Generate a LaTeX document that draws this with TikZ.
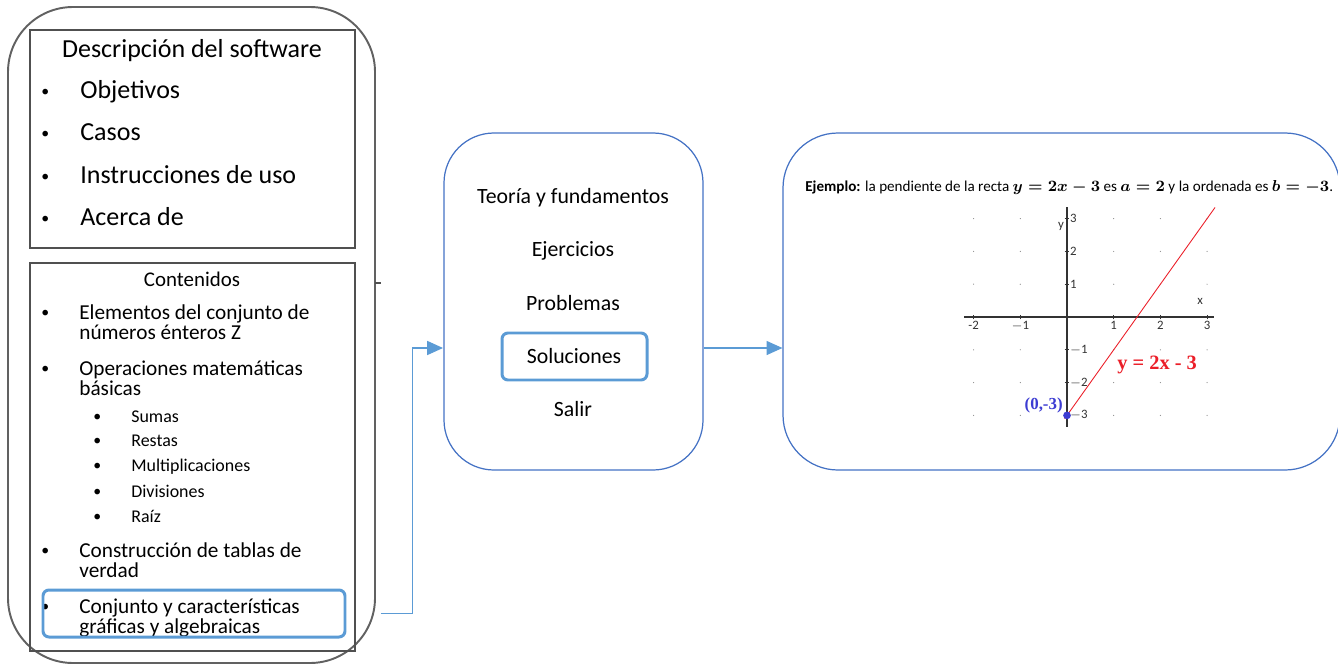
\documentclass[tikz,border=0pt]{standalone}
\usepackage{amsmath}
\usepackage{fontspec}
\setmainfont{Carlito}
\newfontfamily\labelfont{Liberation Serif}
\usepackage{tikz}
\usetikzlibrary{arrows.meta}
\usetikzlibrary{calc}
\usetikzlibrary{positioning}
\definecolor{boxblue}{RGB}{68,114,196}
\definecolor{linkblue}{RGB}{91,155,213}
\definecolor{framegray}{RGB}{80,80,80}
\definecolor{plotred}{RGB}{235,30,40}
\definecolor{pointblue}{RGB}{60,60,210}

\begin{document}
\begin{tikzpicture}[x=0.02cm, y=-0.02cm,
    frame/.style={draw=framegray, line width=0.8pt, inner sep=0pt},
    menubox/.style={draw=boxblue, line width=0.7pt, rounded corners=1cm, inner sep=0pt},
    pick/.style={draw=linkblue, line width=1.7pt, rounded corners=0.12cm, inner sep=0pt},
    link/.style={draw=linkblue, line width=0.6pt, -{Triangle[length=9pt,width=8pt]}},
    big/.style={font=\fontsize{14.8}{17}\selectfont, anchor=mid west, inner sep=0pt},
    dot/.style={font=\fontsize{9}{10}\selectfont, anchor=mid west, inner sep=0pt},
    item/.style={font=\fontsize{12.1}{11.4}\selectfont, anchor=north west, align=left, inner sep=0pt},
    sub/.style={font=\fontsize{10.2}{12}\selectfont, anchor=mid west, inner sep=0pt},
    entry/.style={font=\fontsize{12.4}{14}\selectfont, inner sep=0pt},
    tick/.style={font=\fontsize{7.3}{8}\selectfont, inner sep=1pt, text=black!80}]
    \useasboundingbox (0,0) rectangle (1338,666);

    % left column
    \node[frame, draw=framegray!90, line width=1.1pt, rounded corners=1.3cm,
          minimum width=367*0.02cm, minimum height=656*0.02cm] (outer) at (191.5,335) {};
    \node[frame, minimum width=325*0.02cm, minimum height=218*0.02cm] (desc) at (192.5,139) {};
    \node[frame, minimum width=325*0.02cm, minimum height=388*0.02cm] (cont) at (192.5,457) {};

    \node[font=\fontsize{14.8}{17}\selectfont, inner sep=0pt] (desctitle) at (192,51) {Descripción del software};
    \foreach \y/\t [count=\n] in {94/Objetivos, 136/Casos, 179/Instrucciones de uso, 221/Acerca de} {
      \node[dot] (bul\n) at (41,\y-2) {•};
      \node[big] (it\n) at (80,\y) {\t};
    }

    \node[font=\fontsize{11.9}{14}\selectfont, inner sep=0pt] (conttitle) at (192,279) {Contenidos};
    \foreach \y/\t [count=\n] in {304/{Elementos del conjunto de\\números énteros Z},
                                  360/{Operaciones matemáticas\\básicas},
                                  542/{Construcción de tablas de\\verdad},
                                  598/{Conjunto y características\\gráficas y algebraicas}} {
      \node[dot] (cbul\n) at (41,\y+9) {•};
      \node[item] (citem\n) at (79,\y) {\t};
    }
    \foreach \y/\t [count=\n] in {418/Sumas, 442/Restas, 467/Multiplicaciones, 493/Divisiones, 518/Raíz} {
      \node[dot] (sbul\n) at (93,\y-1) {•};
      \node[sub] (sitem\n) at (131,\y) {\t};
    }
    \node[pick, minimum width=302*0.02cm, minimum height=47*0.02cm] (sel) at (194,613.5) {};
    \coordinate (stub) at (375,283);
    \draw[framegray, line width=0.6pt] (stub) -- ++(6,0);

    % menu
    \node[menubox, minimum width=259*0.02cm, minimum height=337*0.02cm] (menu) at (573.5,301.5) {};
    \node[entry] (teo) at (573,198) {Teoría y fundamentos};
    \node[entry] (eje) at (573,251) {Ejercicios};
    \node[entry] (pro) at (573,303) {Problemas};
    \node[entry] (sol) at (574,356) {Soluciones};
    \node[entry] (sal) at (573,409) {Salir};
    \node[pick, minimum width=145*0.02cm, minimum height=47*0.02cm] (solbox) at (574.5,356.5) {};

    % example
    \node[menubox, rounded corners=1.1cm, minimum width=557*0.02cm, minimum height=337*0.02cm] (example) at (1061.5,301.5) {};
    \node[anchor=mid west, inner sep=0pt, font=\fontsize{8.6}{10}\selectfont] (ejemplo) at (805,187)
      {\textbf{Ejemplo:} la pendiente de la recta $\boldsymbol{y=2x-3}$ es $\boldsymbol{a=2}$ y la ordenada es $\boldsymbol{b=-3}$.};

    \begin{scope}[shift={(1067,317)}, x=0.934cm, y=0.656cm]
      \foreach \i in {-2,-1,1,2,3}
        \foreach \j in {-3,-2,-1,1,2,3}
          \fill[black!45] (\i,\j) circle (0.35pt);
      \draw[black!80, line width=0.8pt] (-2.2,0) -- (3.15,0);
      \draw[black!80, line width=0.8pt] (0,-3.35) -- (0,3.35);
      \foreach \i/\l in {-2/-2, -1/$-$1, 1/1, 2/2, 3/3} {
        \draw[black!80, line width=0.6pt] (\i,-0.07) -- (\i,0.07);
        \node[tick, below] at (\i,-0.05) {\l};
      }
      \foreach \j/\l in {-3/$-$3, -2/$-$2, -1/$-$1, 1/1, 2/2, 3/3} {
        \draw[black!80, line width=0.6pt] (-0.05,\j) -- (0.05,\j);
        \node[tick, right] at (0.02,\j) {\l};
      }
      \node[tick] (xlab) at (2.85,0.46) {x};
      \node[tick] (ylab) at (-0.13,2.77) {y};
      \draw[plotred, line width=0.5pt] (-0.05,-3.1) -- (3.17,3.34);
      \fill[pointblue] (0,-3) circle (2.2pt);
      \node[font=\labelfont\bfseries\fontsize{9.6}{11}\selectfont, text=pointblue, inner sep=0pt] (ptlab) at (-0.5,-2.7) {(0,-3)};
      \node[font=\labelfont\bfseries\fontsize{11.6}{13}\selectfont, text=plotred, inner sep=0pt] (eqlab) at (1.93,-1.46) {y = 2x - 3};
    \end{scope}

    % connectors
    \coordinate (jin) at (443,348);
    \draw[link] (outer.east |- sel.east) ++(5,0) -- ++(32,0) |- (jin);
    \draw[link] (menu.east |- jin) -- (example.west |- jin);
  \end{tikzpicture}
\end{document}
